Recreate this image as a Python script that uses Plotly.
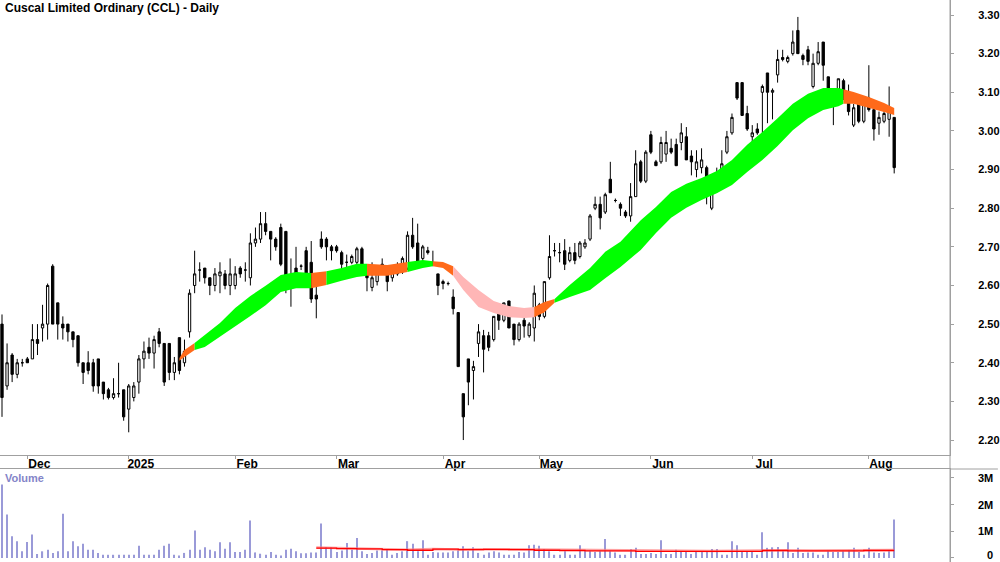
import pandas as pd
import plotly.graph_objects as go

# ---------------- data ----------------
holidays = ["2024-12-25", "2024-12-26", "2025-01-01", "2025-01-27",
            "2025-04-18", "2025-04-21", "2025-04-25", "2025-06-09"]
dates = [d.strftime("%Y-%m-%d") for d in pd.bdate_range("2024-11-25", "2025-08-08")
         if d.strftime("%Y-%m-%d") not in holidays]

open_ = [2.50, 2.34, 2.42, 2.37, 2.40, 2.41, 2.41, 2.46, 2.49, 2.50,
         2.65, 2.555, 2.50, 2.50, 2.48, 2.47, 2.40, 2.40, 2.40, 2.41,
         2.35, 2.33, 2.31, 2.32, 2.33, 2.28, 2.31, 2.35, 2.41, 2.44,
         2.425, 2.48, 2.45, 2.45, 2.375, 2.465, 2.40, 2.48, 2.60, 2.64,
         2.645, 2.62, 2.60, 2.625, 2.63, 2.60, 2.60, 2.645, 2.64, 2.62,
         2.71, 2.72, 2.76, 2.74, 2.72, 2.75, 2.74, 2.60, 2.645, 2.65,
         2.69, 2.66, 2.575, 2.72, 2.72, 2.70, 2.70, 2.685, 2.66, 2.66,
         2.66, 2.695, 2.63, 2.595, 2.61, 2.65, 2.65, 2.62, 2.63, 2.635,
         2.645, 2.73, 2.71, 2.67, 2.69, 2.66, 2.63, 2.61, 2.605, 2.57,
         2.53, 2.32, 2.41, 2.38, 2.45, 2.47, 2.47, 2.46, 2.54, 2.51,
         2.56, 2.50, 2.46, 2.51, 2.47, 2.49, 2.55, 2.52, 2.62, 2.69,
         2.685, 2.69, 2.665, 2.685, 2.675, 2.70, 2.72, 2.80, 2.81, 2.79,
         2.875, 2.82, 2.81, 2.79, 2.78, 2.83, 2.92, 2.87, 2.99, 2.92,
         2.92, 2.94, 2.955, 2.965, 2.97, 2.985, 2.935, 2.90, 2.905, 2.905,
         2.80, 2.855, 2.875, 2.945, 2.995, 3.125, 3.125, 3.045, 2.985, 3.005,
         3.10, 3.15, 3.10, 3.145, 3.19, 3.18, 3.20, 3.26, 3.195, 3.21,
         3.115, 3.175, 3.23, 3.14, 3.105, 3.09, 3.13, 3.095, 3.015, 3.075,
         3.025, 3.085, 3.055, 3.02, 3.025, 3.03, 3.035]
high = [2.525, 2.45, 2.425, 2.41, 2.41, 2.415, 2.50, 2.50, 2.55, 2.605,
        2.655, 2.555, 2.52, 2.50, 2.48, 2.47, 2.40, 2.43, 2.41, 2.41,
        2.35, 2.335, 2.36, 2.40, 2.33, 2.345, 2.35, 2.42, 2.455, 2.465,
        2.47, 2.49, 2.45, 2.45, 2.415, 2.465, 2.46, 2.59, 2.69, 2.66,
        2.645, 2.62, 2.645, 2.66, 2.64, 2.67, 2.65, 2.65, 2.66, 2.735,
        2.75, 2.79, 2.79, 2.74, 2.725, 2.76, 2.74, 2.67, 2.70, 2.655,
        2.70, 2.715, 2.60, 2.74, 2.725, 2.705, 2.705, 2.69, 2.68, 2.68,
        2.70, 2.70, 2.65, 2.66, 2.65, 2.67, 2.65, 2.645, 2.66, 2.675,
        2.74, 2.775, 2.76, 2.705, 2.70, 2.69, 2.63, 2.615, 2.61, 2.59,
        2.53, 2.32, 2.41, 2.405, 2.50, 2.485, 2.48, 2.52, 2.55, 2.555,
        2.56, 2.50, 2.505, 2.52, 2.505, 2.60, 2.555, 2.61, 2.73, 2.71,
        2.71, 2.72, 2.70, 2.71, 2.715, 2.72, 2.785, 2.83, 2.83, 2.84,
        2.92, 2.825, 2.815, 2.795, 2.865, 2.95, 2.925, 2.95, 3.00, 2.925,
        2.985, 3.00, 2.98, 2.98, 3.02, 3.01, 2.95, 2.95, 2.955, 2.91,
        2.88, 2.905, 2.95, 3.00, 3.045, 3.125, 3.125, 3.065, 3.015, 3.02,
        3.12, 3.15, 3.11, 3.21, 3.21, 3.195, 3.26, 3.295, 3.20, 3.22,
        3.20, 3.23, 3.23, 3.14, 3.11, 3.135, 3.135, 3.12, 3.07, 3.085,
        3.085, 3.17, 3.06, 3.05, 3.06, 3.115, 3.035]
low = [2.26, 2.33, 2.35, 2.36, 2.39, 2.40, 2.41, 2.42, 2.455, 2.46,
       2.50, 2.46, 2.46, 2.455, 2.44, 2.39, 2.345, 2.37, 2.325, 2.32,
       2.305, 2.305, 2.305, 2.31, 2.25, 2.22, 2.30, 2.32, 2.385, 2.41,
       2.385, 2.44, 2.34, 2.355, 2.355, 2.37, 2.39, 2.465, 2.58, 2.61,
       2.605, 2.575, 2.585, 2.58, 2.59, 2.575, 2.59, 2.62, 2.61, 2.60,
       2.70, 2.71, 2.73, 2.665, 2.69, 2.65, 2.58, 2.545, 2.625, 2.64,
       2.615, 2.555, 2.515, 2.695, 2.665, 2.665, 2.685, 2.63, 2.63, 2.655,
       2.655, 2.65, 2.585, 2.585, 2.60, 2.64, 2.585, 2.61, 2.625, 2.63,
       2.64, 2.695, 2.645, 2.65, 2.68, 2.65, 2.575, 2.59, 2.60, 2.525,
       2.39, 2.20, 2.29, 2.305, 2.415, 2.375, 2.43, 2.455, 2.485, 2.505,
       2.49, 2.445, 2.455, 2.465, 2.465, 2.455, 2.51, 2.515, 2.615, 2.675,
       2.66, 2.64, 2.66, 2.655, 2.67, 2.695, 2.715, 2.795, 2.745, 2.785,
       2.84, 2.815, 2.78, 2.775, 2.765, 2.83, 2.865, 2.865, 2.94, 2.91,
       2.915, 2.92, 2.94, 2.91, 2.95, 2.925, 2.885, 2.88, 2.89, 2.81,
       2.795, 2.84, 2.87, 2.94, 2.99, 3.08, 3.04, 3.00, 2.955, 2.99,
       2.94, 3.02, 3.03, 3.125, 3.18, 3.175, 3.195, 3.20, 3.17, 3.17,
       3.11, 3.17, 3.13, 3.06, 3.015, 3.085, 3.08, 3.04, 3.01, 3.02,
       3.02, 3.05, 2.975, 2.99, 3.02, 2.985, 2.89]
close = [2.31, 2.40, 2.37, 2.40, 2.40, 2.40, 2.46, 2.45, 2.50, 2.60,
         2.50, 2.50, 2.49, 2.48, 2.46, 2.40, 2.375, 2.38, 2.34, 2.34,
         2.32, 2.31, 2.32, 2.32, 2.26, 2.34, 2.34, 2.41, 2.43, 2.425,
         2.46, 2.45, 2.35, 2.375, 2.40, 2.38, 2.43, 2.58, 2.63, 2.64,
         2.62, 2.60, 2.63, 2.635, 2.60, 2.63, 2.63, 2.63, 2.64, 2.71,
         2.72, 2.76, 2.74, 2.72, 2.70, 2.655, 2.60, 2.62, 2.632, 2.65,
         2.62, 2.565, 2.565, 2.70, 2.70, 2.69, 2.69, 2.655, 2.66, 2.675,
         2.695, 2.655, 2.62, 2.62, 2.645, 2.655, 2.61, 2.64, 2.65, 2.67,
         2.73, 2.70, 2.645, 2.70, 2.685, 2.655, 2.60, 2.605, 2.605, 2.54,
         2.39, 2.26, 2.35, 2.39, 2.48, 2.435, 2.44, 2.52, 2.51, 2.555,
         2.49, 2.46, 2.50, 2.495, 2.50, 2.58, 2.52, 2.61, 2.675, 2.69,
         2.685, 2.655, 2.685, 2.665, 2.71, 2.71, 2.78, 2.81, 2.775, 2.835,
         2.84, 2.82, 2.80, 2.78, 2.83, 2.915, 2.87, 2.945, 2.945, 2.91,
         2.97, 2.97, 2.945, 2.91, 2.995, 2.925, 2.92, 2.92, 2.925, 2.83,
         2.865, 2.875, 2.915, 2.985, 3.035, 3.085, 3.04, 3.005, 2.995, 2.995,
         3.115, 3.10, 3.105, 3.185, 3.185, 3.19, 3.23, 3.20, 3.185, 3.18,
         3.175, 3.205, 3.17, 3.105, 3.09, 3.135, 3.085, 3.05, 3.06, 3.025,
         3.075, 3.055, 3.005, 3.035, 3.045, 3.05, 2.905]

volume_m = [2.75, 1.63, 0.81, 0.63, 0.25, 0.60, 0.88, 0.15, 0.25, 0.31,
            0.19, 0.25, 1.66, 0.25, 0.63, 0.44, 0.53, 0.31, 0.31, 0.19,
            0.12, 0.12, 0.12, 0.12, 0.12, 0.12, 0.12, 0.46, 0.12, 0.12,
            0.12, 0.31, 0.46, 0.53, 0.12, 0.09, 0.19, 0.31, 1.03, 0.31,
            0.40, 0.31, 0.25, 0.59, 0.35, 0.59, 0.22, 0.22, 0.31, 1.40,
            0.21, 0.16, 0.12, 0.22, 0.12, 0.09, 0.31, 0.35, 0.25, 0.18,
            0.18, 0.21, 0.21, 1.29, 0.40, 0.40, 0.22, 0.28, 0.56, 0.31,
            0.75, 0.25, 0.15, 0.19, 0.28, 0.28, 0.31, 0.12, 0.19, 0.25,
            0.63, 0.53, 0.25, 0.66, 0.12, 0.22, 0.21, 0.21, 0.21, 0.25,
            0.28, 0.44, 0.25, 0.40, 0.19, 0.12, 0.21, 0.25, 0.21, 0.12,
            0.12, 0.12, 0.22, 0.21, 0.48, 0.50, 0.46, 0.34, 0.25, 0.12,
            0.12, 0.25, 0.12, 0.12, 0.48, 0.25, 0.25, 0.22, 0.25, 0.71,
            0.25, 0.21, 0.12, 0.12, 0.34, 0.38, 0.15, 0.15, 0.19, 0.15,
            0.66, 0.15, 0.15, 0.31, 0.22, 0.25, 0.15, 0.25, 0.25, 0.25,
            0.34, 0.34, 0.12, 0.12, 0.63, 0.48, 0.22, 0.22, 0.25, 0.12,
            0.96, 0.38, 0.40, 0.41, 0.25, 0.59, 0.19, 0.38, 0.19, 0.21,
            0.21, 0.12, 0.12, 0.25, 0.22, 0.22, 0.25, 0.28, 0.38, 0.22,
            0.12, 0.38, 0.21, 0.19, 0.21, 0.25, 1.44]

# volume moving averages (sampled)
vma_idx = [62, 66, 70, 75, 80, 85, 90, 95, 100, 105, 110, 115, 120, 125,
           130, 135, 140, 145, 150, 155, 160, 165, 170, 176]
vma_m = [0.37, 0.35, 0.34, 0.31, 0.29, 0.33, 0.31, 0.32, 0.31, 0.29, 0.28, 0.27,
         0.27, 0.25, 0.25, 0.25, 0.25, 0.25, 0.28, 0.27, 0.27, 0.27, 0.28, 0.28]
vma2_m = [0.39, 0.37, 0.35, 0.33, 0.31, 0.34, 0.32, 0.33, 0.32, 0.31, 0.30, 0.29,
          0.28, 0.27, 0.26, 0.26, 0.26, 0.27, 0.29, 0.29, 0.28, 0.28, 0.29, 0.30]

# trend ribbon (sampled), state: g = up, o = neutral, p = down
rib_idx = [35, 36, 38, 40, 43, 46, 49, 52, 55, 58, 61, 64, 67, 70, 72, 76, 80, 83,
           85, 87, 89, 91, 94, 97, 100, 103, 105, 107, 109, 112, 116, 119, 122,
           126, 129, 132, 135, 138, 141, 144, 147, 150, 153, 156, 159, 162, 165,
           166, 168, 171, 174, 176]
rib_hi = [2.412, 2.433, 2.451, 2.472, 2.503, 2.542, 2.573, 2.599, 2.627, 2.635,
          2.632, 2.637, 2.645, 2.656, 2.656, 2.653, 2.661, 2.666, 2.663, 2.661,
          2.650, 2.622, 2.588, 2.560, 2.547, 2.542, 2.544, 2.557, 2.565, 2.601,
          2.645, 2.687, 2.713, 2.769, 2.803, 2.842, 2.863, 2.878, 2.896, 2.925,
          2.964, 2.997, 3.033, 3.070, 3.096, 3.111, 3.111, 3.108, 3.101, 3.088,
          3.072, 3.059]
rib_lo = [2.405, 2.415, 2.433, 2.441, 2.467, 2.495, 2.521, 2.549, 2.583, 2.593,
          2.593, 2.601, 2.612, 2.622, 2.625, 2.625, 2.635, 2.645, 2.650, 2.645,
          2.625, 2.588, 2.544, 2.529, 2.518, 2.516, 2.518, 2.531, 2.555, 2.570,
          2.588, 2.619, 2.648, 2.692, 2.736, 2.775, 2.801, 2.821, 2.839, 2.860,
          2.894, 2.925, 2.961, 3.002, 3.033, 3.054, 3.064, 3.070, 3.070, 3.059,
          3.049, 3.041]
rib_state = list("oogggggggg" "ogggoogg" "oopppppp" "oo" "ggggggggggggggggggg" "ooooo")

month_ticks = ["2024-12-02", "2025-01-02", "2025-02-03", "2025-03-03", "2025-04-01",
               "2025-05-01", "2025-06-02", "2025-07-01", "2025-08-01"]
month_labels = ["Dec", "2025", "Feb", "Mar", "Apr", "May", "Jun", "Jul", "Aug"]
price_ticks = [2.2, 2.3, 2.4, 2.5, 2.6, 2.7, 2.8, 2.9, 3.0, 3.1, 3.2, 3.3]
vol_ticks = [0, 1e6, 2e6, 3e6]
vol_labels = ["0", "1M", "2M", "3M"]

# ---------------- figure ----------------
W, H = 1000, 562
plot_right = 952
FONT = "Liberation Sans, Arial, sans-serif"
colors = {"g": "#00ff00", "o": "#ff6a1a", "p": "#ffb6b6"}

fig = go.Figure()

# ribbon segments
n = len(rib_idx)
k = 0
while k < n - 1:
    st = rib_state[k]
    j = k
    while j < n - 1 and rib_state[j] == st:
        j += 1
    seg = list(range(k, j + 1))
    xs = [dates[rib_idx[m]] for m in seg] + [dates[rib_idx[m]] for m in reversed(seg)]
    ys = [rib_hi[m] for m in seg] + [rib_lo[m] for m in reversed(seg)]
    fig.add_trace(go.Scatter(x=xs, y=ys, fill="toself", fillcolor=colors[st],
                             mode="lines", line=dict(width=0, color=colors[st]),
                             hoverinfo="skip", showlegend=False, xaxis="x", yaxis="y"))
    k = j

fig.add_trace(go.Candlestick(
    x=dates, open=open_, high=high, low=low, close=close,
    increasing=dict(line=dict(color="black", width=1), fillcolor="white"),
    decreasing=dict(line=dict(color="black", width=1), fillcolor="black"),
    whiskerwidth=0, showlegend=False, xaxis="x", yaxis="y"))

fig.add_trace(go.Bar(x=dates, y=[v * 1e6 for v in volume_m], width=0.22,
                     marker=dict(color="#9a9ad8", line=dict(width=0)),
                     showlegend=False, xaxis="x2", yaxis="y2"))
fig.add_trace(go.Scatter(x=[dates[i] for i in vma_idx], y=[v * 1e6 for v in vma2_m],
                         mode="lines", line=dict(color="rgba(255,120,120,0.7)", width=2.5),
                         showlegend=False, xaxis="x2", yaxis="y2"))
fig.add_trace(go.Scatter(x=[dates[i] for i in vma_idx], y=[v * 1e6 for v in vma_m],
                         mode="lines", line=dict(color="#ff0000", width=1.3, shape="hv"),
                         showlegend=False, xaxis="x2", yaxis="y2"))

price_bottom = 455
vol_top = 469
p_dom = [1 - price_bottom / H, 1]
v_dom = [0, 1 - vol_top / H]
xr = [-2 / 5.08, (plot_right - 2) / 5.08]

fig.update_layout(
    width=W, height=H, margin=dict(l=0, r=W - plot_right, t=0, b=0),
    paper_bgcolor="white", plot_bgcolor="white", boxgap=0.35,
    xaxis=dict(type="category", categoryorder="array", categoryarray=dates,
               domain=[0, 1], anchor="y", range=xr, rangeslider=dict(visible=False),
               showgrid=False, showline=True, linecolor="#a0a0a0", linewidth=1,
               ticks="outside", ticklen=3, tickcolor="#a0a0a0",
               tickvals=month_ticks, ticktext=month_labels, ticklabelshift=12,
               ticklabelstandoff=-5,
               tickfont=dict(family=FONT, size=12, color="black", weight="bold")),
    yaxis=dict(domain=p_dom, anchor="x", side="right", range=[3.30 - 440 / 386.4, 3.30 + 15 / 386.4],
               tickvals=price_ticks, tickformat=".2f", showgrid=False, zeroline=False,
               showline=True, linecolor="#a0a0a0", ticks="outside", ticklen=3, tickcolor="#a0a0a0",
               ticklabelstandoff=22,
               tickfont=dict(family=FONT, size=11, color="black", weight="bold")),
    xaxis2=dict(type="category", categoryorder="array", categoryarray=dates,
                domain=[0, 1], anchor="y2", matches="x", side="top",
                showticklabels=False, showgrid=False, showline=True, linecolor="#a0a0a0",
                ticks=""),
    yaxis2=dict(domain=v_dom, anchor="x2", side="right", range=[-150000, 3330000],
                tickvals=vol_ticks, showticklabels=False, showgrid=False, zeroline=False,
                showline=True, linecolor="#a0a0a0", ticks="outside", ticklen=3, tickcolor="#a0a0a0"),
)

for v, t in zip(vol_ticks, vol_labels):
    fig.add_annotation(x=997 / plot_right, xref="paper", xanchor="right", y=v, yref="y2",
                       yshift=3 if v == 0 else 0,
                       text=t, showarrow=False,
                       font=dict(family=FONT, size=11, color="black", weight="bold"))

fig.add_annotation(x=0.003, xref="paper", xanchor="left", y=1, yref="paper", yanchor="top",
                   yshift=1, text="Cuscal Limited Ordinary (CCL) - Daily", showarrow=False,
                   font=dict(family=FONT, size=12, color="black", weight="bold"))
fig.add_annotation(x=0.003, xref="paper", xanchor="left", y=v_dom[1], yref="paper",
                   yanchor="top", yshift=-1, text="Volume", showarrow=False,
                   font=dict(family=FONT, size=11, color="#8484c8", weight="bold"))

fig.add_shape(type="line", xref="paper", yref="paper", x0=1, x1=1, y0=0, y1=1,
              line=dict(color="#a0a0a0", width=1))
fig.add_shape(type="line", xref="paper", yref="paper", x0=1, x1=W / plot_right,
              y0=v_dom[1], y1=v_dom[1], line=dict(color="#a0a0a0", width=1))

fig.write_html("out.html")
